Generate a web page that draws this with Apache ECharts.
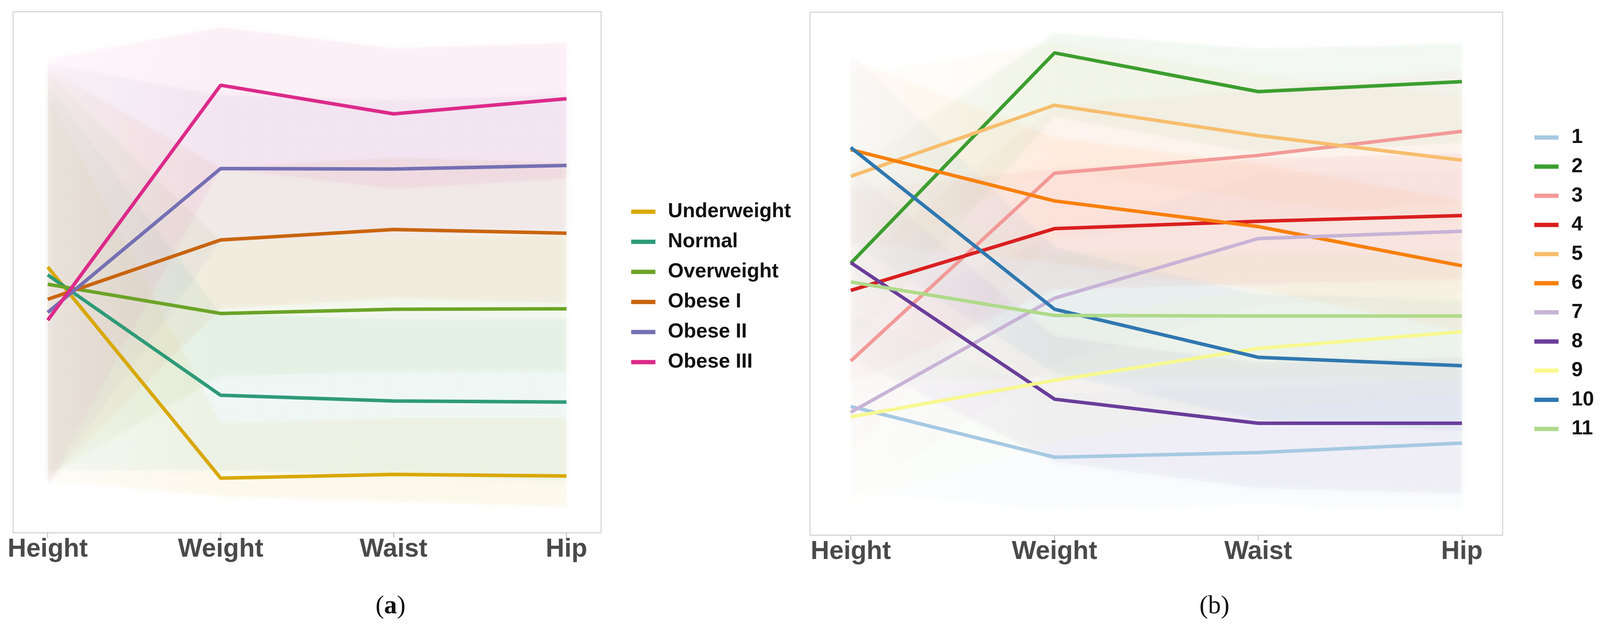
<!DOCTYPE html>
<html>
<head>
<meta charset="utf-8">
<script src="https://cdn.jsdelivr.net/npm/echarts@6/dist/echarts.min.js"></script>
<style>
html,body{margin:0;padding:0;background:#fff;overflow:hidden;}
#chart{width:100vw;height:100vh;}
</style>
</head>
<body>
<div id="chart"></div>
<script>
// ---------- data ----------
const dims = ['Height', 'Weight', 'Waist', 'Hip'];

// panel (a): BMI classes, mean profile (relative scale 0-100)
const bmiClasses = ['Underweight', 'Normal', 'Overweight', 'Obese I', 'Obese II', 'Obese III'];
const bmiColors = ['#D9A800', '#2E9B78', '#6BA427', '#C9650F', '#7570B3', '#DC2A8A'];
const underweight = [51.0, 10.5, 11.2, 10.9];
const normal      = [49.5, 26.4, 25.3, 25.1];
const overweight  = [47.7, 42.1, 42.9, 43.0];
const obese1      = [44.8, 56.2, 58.2, 57.5];
const obese2      = [42.3, 69.9, 69.8, 70.5];
const obese3      = [40.8, 85.9, 80.4, 83.3];
// approximate spread of the individual profiles (low / high)
const bmiLow  = [[10, 7, 6, 5], [12, 12, 11, 10], [11, 30, 31, 31], [10, 43, 45, 44], [9, 56, 57, 58], [9, 70, 66, 68]];
const bmiHigh = [[84, 21, 22, 22], [86, 42, 41, 41], [88, 56, 57, 57], [89, 70, 72, 71], [90, 84, 83, 84], [91, 97, 93, 94]];

// panel (b): clusters 1..11
const clusterNames = ['1', '2', '3', '4', '5', '6', '7', '8', '9', '10', '11'];
const clusterColors = ['#A6C9E2', '#3C9E2F', '#F29A98', '#DA1F20', '#F7BE6E', '#F8800A', '#C8B3D6', '#6A3D9A', '#F8F890', '#2F78B0', '#B0DA8A'];
const c1  = [24.6, 14.9, 15.8, 17.6];
const c2  = [52.0, 92.2, 84.8, 86.7];
const c3  = [33.3, 69.2, 72.6, 77.2];
const c4  = [46.8, 58.6, 60.0, 61.1];
const c5  = [68.6, 82.2, 76.4, 71.7];
const c6  = [73.7, 63.9, 59.0, 51.5];
const c7  = [23.5, 45.3, 56.7, 58.1];
const c8  = [52.1, 26.0, 21.4, 21.4];
const c9  = [22.6, 29.6, 35.7, 38.9];
const c10 = [74.1, 43.2, 34.0, 32.4];
const c11 = [48.4, 42.0, 41.9, 41.9];
const clusterLow  = [[8, 5, 6, 5], [36, 80, 73, 75], [16, 57, 60, 64], [29, 47, 48, 49], [52, 70, 64, 60], [56, 52, 47, 39],
                     [7, 33, 44, 46], [34, 14, 9, 8], [6, 18, 24, 27], [56, 31, 22, 20], [30, 30, 30, 30]];
const clusterHigh = [[42, 27, 28, 30], [70, 96, 93, 94], [52, 82, 85, 89], [66, 70, 72, 73], [88, 94, 88, 84], [91, 76, 71, 64],
                     [41, 57, 69, 70], [70, 38, 33, 34], [40, 41, 47, 51], [92, 55, 46, 45], [66, 54, 54, 54]];

const bmiMeans = [underweight, normal, overweight, obese1, obese2, obese3];
const clusterMeans = [c1, c2, c3, c4, c5, c6, c7, c8, c9, c10, c11];

// ---------- layout helpers (design size 4142 x 1623) ----------
const W = window.innerWidth || 4142, H = window.innerHeight || 1623;
const sx = W / 4142, sy = H / 1623;
const px = v => v * sx, py = v => v * sy;
const FONT = 'Liberation Sans, Arial, Helvetica, sans-serif';
const SERIF = 'Liberation Serif, Times New Roman, serif';

function rgba(hex, a) {
  const n = parseInt(hex.slice(1), 16);
  return 'rgba(' + ((n >> 16) & 255) + ',' + ((n >> 8) & 255) + ',' + (n & 255) + ',' + a + ')';
}
function toPoints(vals) { return vals.map((v, i) => [i, v]); }
function bandRows(lows, highs) { return lows.map((lo, i) => lo.concat(highs[i])); }

function bandSeries(gridIdx, rows, colors, alpha, leftFactor) {
  return {
    type: 'custom',
    xAxisIndex: gridIdx, yAxisIndex: gridIdx,
    silent: true, z: 1,
    data: rows,
    renderItem: function (params, api) {
      const pts = [];
      for (let k = 0; k < 4; k++) pts.push(api.coord([k, api.value(k)]));
      for (let k = 3; k >= 0; k--) pts.push(api.coord([k, api.value(4 + k)]));
      const c = colors[params.dataIndex];
      const fill = new echarts.graphic.LinearGradient(0, 0, 1, 0, [
        { offset: 0, color: rgba(c, alpha * leftFactor) },
        { offset: 0.333, color: rgba(c, alpha) },
        { offset: 1, color: rgba(c, alpha) }
      ]);
      return { type: 'polygon', shape: { points: pts },
               style: { fill: fill, shadowBlur: 18, shadowColor: c } };
    }
  };
}

function lineSeries(gridIdx, names, means, colors) {
  return names.map((n, i) => ({
    name: n, type: 'line',
    xAxisIndex: gridIdx, yAxisIndex: gridIdx,
    data: toPoints(means[i]),
    symbol: 'none', z: 5,
    color: colors[i],
    lineStyle: { width: 9, color: colors[i], cap: 'butt' },
    emphasis: { disabled: true }
  }));
}

function xAxisCfg(gridIdx) {
  return {
    type: 'value', gridIndex: gridIdx, min: -0.2, max: 3.2,
    axisLine: { show: true, onZero: false, lineStyle: { color: '#c4c4c4', width: 2 } },
    axisTick: { show: true, customValues: [0, 1, 2, 3], length: 13, lineStyle: { color: '#b8b8b8', width: 2 } },
    axisLabel: { show: true, customValues: [0, 1, 2, 3], margin: 10,
                 formatter: v => dims[Math.round(v)],
                 fontFamily: FONT, fontWeight: 'bold', fontSize: 66, color: '#4a4a4a' },
    splitLine: { show: false }
  };
}
function yAxisCfg(gridIdx) {
  return { type: 'value', gridIndex: gridIdx, min: 0, max: 100, show: false, splitLine: { show: false } };
}

const chart = echarts.init(document.getElementById('chart'), null, { renderer: 'canvas' });

const legendText = { fontFamily: FONT, fontWeight: 'bold', fontSize: 52, lineHeight: 52, color: '#111' };

const option = {
  animation: false,
  backgroundColor: '#ffffff',
  grid: [
    { left: px(34), top: py(30), width: px(1522), height: py(1334), show: true, borderColor: '#c8c8c8', borderWidth: 2, backgroundColor: 'transparent' },
    { left: px(2097), top: py(31), width: px(1793), height: py(1339), show: true, borderColor: '#c8c8c8', borderWidth: 2, backgroundColor: 'transparent' }
  ],
  xAxis: [xAxisCfg(0), xAxisCfg(1)],
  yAxis: [yAxisCfg(0), yAxisCfg(1)],
  legend: [
    { orient: 'vertical', left: px(1634), top: py(516), padding: 0, icon: 'rect', itemWidth: 62, itemHeight: 11, itemGap: py(77) - 52,
      data: bmiClasses, selectedMode: false,
      textStyle: Object.assign({ padding: [0, 0, 0, 27] }, legendText) },
    { orient: 'vertical', left: px(3972), top: py(326), padding: 0, icon: 'rect', itemWidth: 62, itemHeight: 11, itemGap: py(74.6) - 52,
      data: clusterNames, selectedMode: false,
      textStyle: Object.assign({ padding: [0, 0, 0, 28] }, legendText) }
  ],
  graphic: [
    { type: 'text', x: px(1011), y: py(1553), z: 10,
      style: { text: '{p|(}{b|a}{p|)}', align: 'center', verticalAlign: 'middle',
               rich: { p: { fontFamily: SERIF, fontSize: 66, fill: '#111' },
                       b: { fontFamily: SERIF, fontSize: 66, fontWeight: 'bold', fill: '#111' } } } },
    { type: 'text', x: px(3144), y: py(1553), z: 10,
      style: { text: '(b)', align: 'center', verticalAlign: 'middle',
               fontFamily: SERIF, fontSize: 66, fill: '#111' } }
  ],
  series: [
    bandSeries(0, bandRows(bmiLow, bmiHigh), bmiColors, 0.04, 0.45),
    bandSeries(1, bandRows(clusterLow, clusterHigh), clusterColors, 0.035, 0.35)
  ].concat(lineSeries(0, bmiClasses, bmiMeans, bmiColors))
   .concat(lineSeries(1, clusterNames, clusterMeans, clusterColors))
};

chart.setOption(option);
window.addEventListener('resize', () => chart.resize());
</script>
</body>
</html>
